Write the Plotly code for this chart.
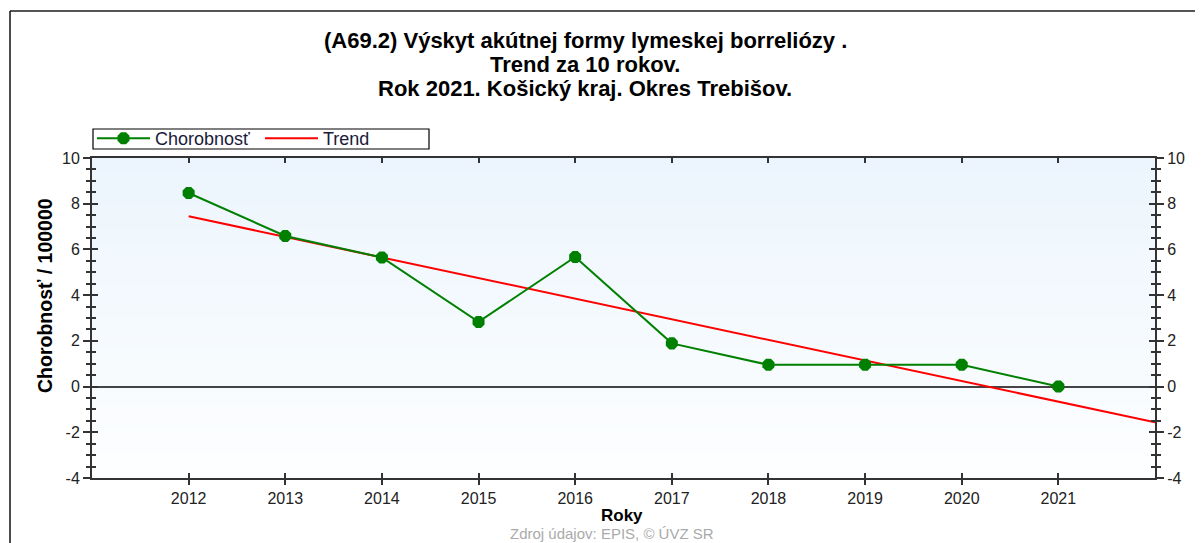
import plotly.graph_objects as go

# ---- data ----
years = [2012, 2013, 2014, 2015, 2016, 2017, 2018, 2019, 2020, 2021]
chorobnost = [8.47, 6.59, 5.65, 2.83, 5.67, 1.89, 0.95, 0.95, 0.95, 0.0]
trend_years = [2012, 2022]
trend_values = [7.45, -1.56]
y_ticks = [-4, -2, 0, 2, 4, 6, 8, 10]
y_ticktext = ["-4", "-2", "0", "2", "4", "6", "8", "10"]

title_lines = [
    "(A69.2) Výskyt akútnej formy lymeskej borreliózy .",
    "Trend za 10 rokov.",
    "Rok 2021. Košický kraj. Okres Trebišov.",
]

OFF = 8  # page body margin
W, H = 1203 - OFF, 543 - OFF
L, R, T, B = 92 - OFF, 1203 - 1155, 158 - OFF, 543 - 478
PW, PH = W - L - R, H - T - B


def px(x):  # page pixel -> paper
    return (x - OFF - L) / PW


def py(y):
    return (H - B - (y - OFF)) / PH


FONT = "Arial, Liberation Sans, sans-serif"
AX = "#333333"

fig = go.Figure()

fig.add_trace(go.Scatter(
    x=trend_years, y=trend_values, mode="lines", name="Trend",
    line=dict(color="#ff0000", width=2), legendrank=2,
))
fig.add_trace(go.Scatter(
    x=years, y=chorobnost, mode="lines+markers", name="Chorobnosť",
    line=dict(color="#008000", width=2),
    marker=dict(color="#008000", size=13, symbol="octagon"), legendrank=1,
))

# invisible helpers so the overlay axes get drawn
for xa, ya in [("x2", "y"), ("x", "y2"), ("x", "y3"), ("x", "y4")]:
    fig.add_trace(go.Scatter(x=[years[0]], y=[0], xaxis=xa, yaxis=ya, mode="markers",
                             marker=dict(opacity=0), showlegend=False, hoverinfo="skip"))

xrange = [2011, 2022]
yrange = [-4, 10]
tickfont = dict(family=FONT, size=16, color="#222")
minor_out = dict(ticks="outside", dtick=0.5, tick0=0, ticklen=4, tickcolor=AX,
                 tickwidth=1.5, showgrid=False)
minor_in = dict(ticks="inside", dtick=0.5, tick0=0, ticklen=4, tickcolor=AX,
                tickwidth=1.5, showgrid=False)

fig.update_layout(
    width=W, height=H,
    margin=dict(l=L, r=R, t=T, b=B),
    paper_bgcolor="white", plot_bgcolor="white",
    font=dict(family=FONT),
    showlegend=True,
    legend=dict(orientation="h", x=px(92), y=py(120), xanchor="left", yanchor="top",
                bgcolor="rgba(0,0,0,0)", font=dict(family=FONT, size=18, color="#1a1a3a"),
                traceorder="normal", itemwidth=53, entrywidth=100),
    xaxis=dict(range=xrange, tickvals=years, ticks="outside", ticklen=5, tickwidth=1.5,
               tickcolor=AX, showline=True, linecolor=AX, linewidth=2, showgrid=False,
               zeroline=False, tickfont=tickfont),
    xaxis2=dict(range=xrange, overlaying="x", anchor="y", side="bottom", tickvals=years,
                ticks="inside", ticklen=5, tickwidth=1.5, tickcolor=AX, mirror="ticks",
                showline=True, linecolor=AX, linewidth=2, showgrid=False, zeroline=False,
                showticklabels=False),
    yaxis=dict(range=yrange, tickvals=y_ticks, ticktext=y_ticktext, ticks="outside",
               ticklen=7, tickwidth=1.5, tickcolor=AX, showline=True, linecolor=AX,
               linewidth=2, showgrid=False, zeroline=True, zerolinecolor="#444",
               zerolinewidth=1.5, tickfont=tickfont, minor=minor_out),
    yaxis3=dict(range=yrange, overlaying="y", side="left", tickvals=y_ticks, ticks="inside",
                ticklen=6, tickwidth=1.5, tickcolor=AX, showline=False, showgrid=False,
                zeroline=False, showticklabels=False, minor=minor_in),
    yaxis2=dict(range=yrange, overlaying="y", side="right", tickvals=y_ticks,
                ticktext=y_ticktext, ticks="outside", ticklen=7, tickwidth=1.5,
                tickcolor=AX, showline=True, linecolor=AX, linewidth=2, showgrid=False,
                zeroline=False, tickfont=tickfont, minor=minor_out),
    yaxis4=dict(range=yrange, overlaying="y", side="right", tickvals=y_ticks, ticks="inside",
                ticklen=6, tickwidth=1.5, tickcolor=AX, showline=False, showgrid=False,
                zeroline=False, showticklabels=False, minor=minor_in),
)

shapes = []
# gradient background of plot area
n = 40
top_c = (236, 245, 253)
bot_c = (253, 254, 255)
for i in range(n):
    t = i / (n - 1)
    c = tuple(round(top_c[k] + (bot_c[k] - top_c[k]) * t) for k in range(3))
    shapes.append(dict(type="rect", xref="paper", yref="paper", x0=0, x1=1,
                       y0=1 - (i + 1) / n, y1=1 - i / n, line=dict(width=0),
                       fillcolor="rgb(%d,%d,%d)" % c, layer="below"))
# legend box
shapes.append(dict(type="rect", xref="paper", yref="paper", x0=px(93), x1=px(429),
                   y0=py(149), y1=py(129), line=dict(color="black", width=1.2)))
# outer frame (top & left)
shapes.append(dict(type="line", xref="paper", yref="paper", x0=px(10), x1=px(1220),
                   y0=py(11), y1=py(11), line=dict(color="#555", width=2)))
shapes.append(dict(type="line", xref="paper", yref="paper", x0=px(10), x1=px(10),
                   y0=py(11), y1=py(560), line=dict(color="#111", width=1.5)))
fig.update_layout(shapes=shapes)

ann = []
for line, yc in zip(title_lines, [41, 64.5, 88]):
    ann.append(dict(text="<b>%s</b>" % line, xref="paper", yref="paper", x=px(585), y=py(yc),
                    xanchor="center", yanchor="middle", showarrow=False,
                    font=dict(family=FONT, size=22, color="black")))
ann.append(dict(text="<b>Chorobnosť / 100000</b>", xref="paper", yref="paper", x=px(45),
                y=py(296), textangle=-90, xanchor="center", yanchor="middle", showarrow=False,
                font=dict(family=FONT, size=19.5, color="black")))
ann.append(dict(text="<b>Roky</b>", xref="paper", yref="paper", x=px(622), y=py(515),
                xanchor="center", yanchor="middle", showarrow=False,
                font=dict(family=FONT, size=17, color="black")))
ann.append(dict(text="Zdroj údajov: EPIS, © ÚVZ SR", xref="paper", yref="paper", x=px(612),
                y=py(533), xanchor="center", yanchor="middle", showarrow=False,
                font=dict(family=FONT, size=15, color="#aaaaaa")))
fig.update_layout(annotations=ann)

fig.write_html("out.html")
